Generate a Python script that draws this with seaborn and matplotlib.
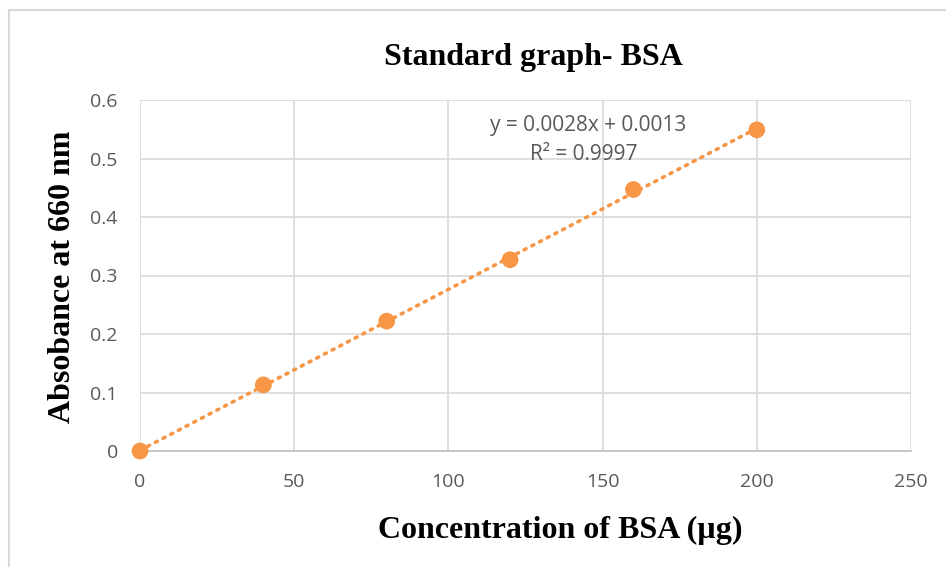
import numpy as np
import pandas as pd
import matplotlib
matplotlib.use("Agg")
import matplotlib.pyplot as plt
import seaborn as sns
from matplotlib.lines import Line2D

# Data
concentration = [0, 40, 80, 120, 160, 200]
absorbance = [0.0, 0.113, 0.222, 0.327, 0.447, 0.549]
x_ticks = [0, 50, 100, 150, 200, 250]
y_ticks = [0, 0.1, 0.2, 0.3, 0.4, 0.5, 0.6]
y_tick_labels = ["0", "0.1", "0.2", "0.3", "0.4", "0.5", "0.6"]
title = "Standard graph- BSA"
x_label = "Concentration of BSA (µg)"
y_label = "Absobance at 660 nm"
eq_text = "y = 0.0028x + 0.0013"
r2_text = "R² = 0.9997"

df = pd.DataFrame({"conc": concentration, "abs": absorbance})

sns.set_theme(style="white")
plt.rcParams["font.family"] = ["Open Sans", "DejaVu Sans"]

orange = "#F79646"
grid_c = "#D9D9D9"
tick_c = "#595959"

fig = plt.figure(figsize=(9.46, 5.67), dpi=100)
ax = fig.add_axes([140 / 946, 1 - 451 / 567, 771 / 946, 351 / 567])

sns.regplot(data=df, x="conc", y="abs", ax=ax, ci=None, truncate=True,
            scatter_kws=dict(s=145, color=orange, edgecolor="none", alpha=1,
                             zorder=4, clip_on=False),
            line_kws=dict(color=orange, linestyle=(0, (0.6, 1.8)), linewidth=2.6,
                          dash_capstyle="round", zorder=3))

ax.set_xlim(0, 250)
ax.set_ylim(0, 0.6)
ax.set_xticks(x_ticks)
ax.set_yticks(y_ticks)
ax.set_yticklabels(y_tick_labels)
ax.grid(True, color=grid_c, linewidth=1.2)
ax.set_axisbelow(True)
for s in ["top", "right", "left"]:
    ax.spines[s].set_visible(False)
ax.spines["bottom"].set_color("#BFBFBF")
ax.spines["bottom"].set_linewidth(1.2)
ax.spines["bottom"].set_zorder(2)
ax.tick_params(axis="both", length=0, labelsize=14, colors=tick_c, labelcolor=tick_c)
ax.tick_params(axis="x", pad=16)
ax.tick_params(axis="y", pad=16)
for lbl in ax.get_xticklabels() + ax.get_yticklabels():
    lbl.set_color(tick_c)

ax.set_xlabel("")
ax.set_ylabel("")

serif = ["Liberation Serif", "DejaVu Serif"]
fig.text(533 / 946, 1 - 58 / 567, title, ha="center", va="center",
         fontsize=23, fontweight="bold", family=serif, color="black")
fig.text(560 / 946, 1 - 530 / 567, x_label, ha="center", va="center",
         fontsize=23, fontweight="bold", family=serif, color="black")
fig.text(63 / 946, 1 - 277 / 567, y_label, ha="center", va="center", rotation=90,
         fontsize=23, fontweight="bold", family=serif, color="black")

fig.text(588 / 946, 1 - 126 / 567, eq_text, ha="center", va="center",
         fontsize=15, color=tick_c)
fig.text(584 / 946, 1 - 155 / 567, r2_text, ha="center", va="center",
         fontsize=15, color=tick_c)

# chart border
fig.add_artist(Line2D([9 / 946, 9 / 946], [0, 1 - 10 / 567], transform=fig.transFigure,
                      color="#D9D9D9", linewidth=1.5))
fig.add_artist(Line2D([9 / 946, 1], [1 - 10 / 567, 1 - 10 / 567], transform=fig.transFigure,
                      color="#D9D9D9", linewidth=1.5))

fig.savefig("out.png", dpi=100)
